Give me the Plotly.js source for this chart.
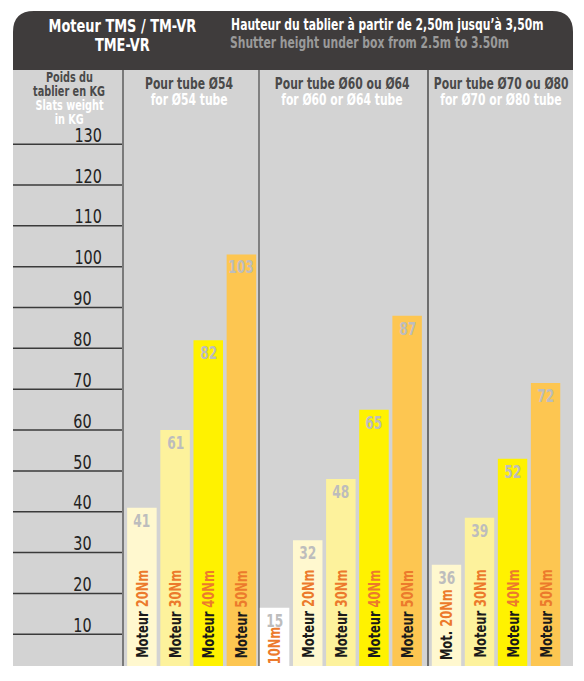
<!DOCTYPE html>
<html>
<head>
<meta charset="utf-8">
<script src="https://cdn.plot.ly/plotly-3.0.1.min.js"></script>
<style>
  body { margin: 0; background: #fff; }
  #plot { width: 584px; height: 681px; }
  /* the original lettering is a very narrow face: squeeze the text a bit */
  #plot .annotation-text {
    transform-box: fill-box;
    transform-origin: center;
    transform: scaleX(0.8);
  }
</style>
</head>
<body>
<div id="plot"></div>
<script>
// values
var yTicks = [10, 20, 30, 40, 50, 60, 70, 80, 90, 100, 110, 120, 130];

var g1Heights = [41, 60, 82, 103];
var g1Labels = ['41', '61', '82', '103'];
var g1Motor = ['Moteur', 'Moteur', 'Moteur', 'Moteur'];
var g1Torque = ['20Nm', '30Nm', '40Nm', '50Nm'];

var g2Heights = [16.5, 33, 48, 65, 88];
var g2Labels = ['15', '32', '48', '65', '87'];
var g2Motor = ['', 'Moteur', 'Moteur', 'Moteur', 'Moteur'];
var g2Torque = ['10Nm', '20Nm', '30Nm', '40Nm', '50Nm'];

var g3Heights = [27, 38.5, 53, 71.5];
var g3Labels = ['36', '39', '52', '72'];
var g3Motor = ['Mot.', 'Moteur', 'Moteur', 'Moteur'];
var g3Torque = ['20Nm', '30Nm', '40Nm', '50Nm'];

var groupTitles = ['Pour tube Ø54', 'Pour tube Ø60 ou Ø64', 'Pour tube Ø70 ou Ø80'];
var groupSubtitles = ['for Ø54 tube', 'for Ø60 or Ø64 tube', 'for Ø70 or Ø80 tube'];

var W = 584, H = 681;
var FONT = 'DejaVu Sans Condensed, Liberation Sans Narrow, sans-serif';

var cream = '#fff8cf', pale = '#fdf29c', yellow = '#fff200', orange = '#fdc651';
var g1Colors = [cream, pale, yellow, orange];
var g2Colors = ['#ffffff', cream, pale, yellow, orange];
var g3Colors = [cream, pale, yellow, orange];

function px(x) { return x / W; }
function py(y) { return 1 - y / H; }

function barTrace(heights, colors, xa) {
  return {
    type: 'bar',
    x: heights.map(function (v, i) { return i; }),
    y: heights,
    xaxis: xa,
    yaxis: 'y',
    width: 0.89,
    marker: { color: colors, line: { width: 0 } },
    hoverinfo: 'none'
  };
}

var data = [
  barTrace(g1Heights, g1Colors, 'x'),
  barTrace(g2Heights, g2Colors, 'x2'),
  barTrace(g3Heights, g3Colors, 'x3')
];

var annotations = [];

function addBarTexts(heights, labels, motor, torque, xa) {
  for (var i = 0; i < heights.length; i++) {
    annotations.push({
      x: i, y: heights[i], xref: xa, yref: 'y',
      text: '<b>' + labels[i] + '</b>',
      showarrow: false, yanchor: 'top', yshift: -1,
      font: { family: FONT, size: 17, color: '#bdbdbd' }
    });
    var t = (motor[i] ? '<span style="color:#1a1a1a">' + motor[i] + '</span> ' : '') +
      '<span style="color:#ec7a2c">' + torque[i] + '</span>';
    annotations.push({
      x: i, y: py(671), xref: xa, yref: 'paper',
      text: '<b>' + t + '</b>',
      showarrow: false, textangle: -90, yanchor: 'bottom',
      font: { family: FONT, size: 16 }
    });
  }
}
addBarTexts(g1Heights, g1Labels, g1Motor, g1Torque, 'x');
addBarTexts(g2Heights, g2Labels, g2Motor, g2Torque, 'x2');
addBarTexts(g3Heights, g3Labels, g3Motor, g3Torque, 'x3');

// y labels sit just above their lines in the left panel
yTicks.forEach(function (v) {
  annotations.push({
    x: px(69), y: v + 2.3, xref: 'paper', yref: 'y',
    text: String(v), showarrow: false,
    font: { family: FONT, size: 20, color: '#222222' }
  });
});

function txt(x, y, s, size, color, anchor) {
  annotations.push({
    x: px(x), y: py(y), xref: 'paper', yref: 'paper',
    text: '<b>' + s + '</b>', showarrow: false,
    xanchor: anchor || 'center', yanchor: 'middle',
    font: { family: FONT, size: size, color: color }
  });
}

// header
txt(122, 26, 'Moteur TMS / TM-VR', 18, '#ffffff');
txt(122, 44, 'TME-VR', 18, '#ffffff');
txt(387, 25, 'Hauteur du tablier à partir de 2,50m jusqu’à 3,50m', 15, '#ffffff');
txt(369, 43, 'Shutter height under box from 2.5m to 3.50m', 15, '#9a9a9a');

// left panel title
txt(69, 77, 'Poids du', 13.5, '#4a4a4a');
txt(69, 91, 'tablier en KG', 13.5, '#4a4a4a');
txt(69, 105, 'Slats weight', 13.5, '#ffffff');
txt(69, 119, 'in KG', 13.5, '#ffffff');

// group titles
var groupCenters = [189, 342, 501];
for (var g = 0; g < 3; g++) {
  txt(groupCenters[g], 84, groupTitles[g], 15, '#4a4a4a');
  txt(groupCenters[g], 100, groupSubtitles[g], 15, '#ffffff');
}

var shapes = [];
// gray body
shapes.push({
  type: 'rect', xref: 'paper', yref: 'paper', layer: 'below',
  x0: px(13), x1: px(573), y0: py(666), y1: py(69),
  fillcolor: '#d3d3d3', line: { width: 0 }
});
// dark header with rounded top corners
var hp = 'M ' + px(13) + ',' + py(70) +
  ' L ' + px(13) + ',' + py(32) +
  ' Q ' + px(13) + ',' + py(11) + ' ' + px(34) + ',' + py(11) +
  ' L ' + px(552) + ',' + py(11) +
  ' Q ' + px(573) + ',' + py(11) + ' ' + px(573) + ',' + py(32) +
  ' L ' + px(573) + ',' + py(70) + ' Z';
shapes.push({
  type: 'path', xref: 'paper', yref: 'paper', layer: 'below',
  path: hp, fillcolor: '#3f3c3c', line: { width: 0 }
});
// left panel lines
yTicks.forEach(function (v) {
  shapes.push({
    type: 'line', xref: 'paper', yref: 'y', layer: 'below',
    x0: px(13), x1: px(123), y0: v, y1: v,
    line: { color: '#3a3a3a', width: 1.5 }
  });
});
// vertical dividers
[[123, '#7a7a7a', 2], [259, '#4a4a4a', 1.2], [428, '#2a2a2a', 1.2]].forEach(function (d) {
  shapes.push({
    type: 'line', xref: 'paper', yref: 'paper', layer: 'below',
    x0: px(d[0]), x1: px(d[0]), y0: py(666), y1: py(70),
    line: { color: d[1], width: d[2] }
  });
});

function hiddenX(lo, hi, range) {
  return { domain: [px(lo), px(hi)], range: range, visible: false, fixedrange: true };
}

var layout = {
  width: W, height: H,
  margin: { l: 0, r: 0, t: 0, b: 0 },
  paper_bgcolor: '#ffffff',
  plot_bgcolor: 'rgba(0,0,0,0)',
  showlegend: false,
  xaxis: hiddenX(123, 258, [-0.57, 3.5]),
  xaxis2: hiddenX(258, 427, [-0.5, 4.6]),
  xaxis3: hiddenX(427, 572, [-0.59, 3.8]),
  yaxis: {
    domain: [1 - 666 / H, 1 - 69 / H], range: [2.23, 148.4],
    visible: false, fixedrange: true
  },
  shapes: shapes,
  annotations: annotations
};

Plotly.newPlot('plot', data, layout, { staticPlot: true });
</script>
</body>
</html>
